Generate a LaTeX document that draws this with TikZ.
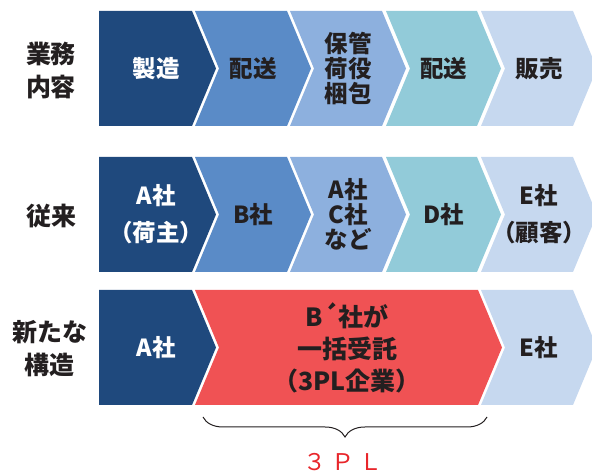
\documentclass[tikz,border=0pt]{standalone}
\usepackage{fontspec}
\setmainfont{Noto Sans CJK JP}
\usetikzlibrary{decorations.pathreplacing}
\definecolor{cnavy}{HTML}{1F497D}
\definecolor{cmid}{HTML}{5A8BC7}
\definecolor{clight}{HTML}{8DB0DE}
\definecolor{cteal}{HTML}{92CBD9}
\definecolor{cpale}{HTML}{C6D8EF}
\definecolor{cred}{HTML}{F05254}
\definecolor{ctext}{HTML}{231F20}
\definecolor{cthreepl}{HTML}{E8262B}
\newcommand\chevshape[6]{\fill[#6] (#1,#3) -- (#2,#3) -- ({#2+24},{(#3+#4)/2}) -- (#2,#4) -- (#1,#4) -- ({#1+#5},{(#3+#4)/2}) -- cycle;}
\tikzset{
  rowlabel/.style={align=center, text=ctext, font=\fontsize{25}{33}\selectfont\bfseries},
  boxtext/.style={align=center, text=ctext, font=\fontsize{23.5}{25}\selectfont\bfseries},
  boxwhite/.style={boxtext, text=white},
  widetext/.style={boxtext, font=\fontsize{23.5}{37}\selectfont\bfseries},
  redtext/.style={boxtext, font=\fontsize{25}{32}\selectfont\bfseries},
  bracestyle/.style={draw=ctext, line width=1pt, decorate, decoration={brace, mirror, amplitude=20pt}}
}
\begin{document}
\begin{tikzpicture}[x=1pt,y=1pt]
\useasboundingbox (0,0) rectangle (592,473);
\clip (0,0) rectangle (592,473);
% row 1
\chevshape{99}{192}{462}{347}{0}{cnavy}
\chevshape{195}{287}{462}{347}{24}{cmid}
\chevshape{290}{382}{462}{347}{24}{clight}
\chevshape{386}{477}{462}{347}{24}{cteal}
\chevshape{481}{573}{462}{347}{24}{cpale}
% row 2
\chevshape{99}{192}{316}{201}{0}{cnavy}
\chevshape{195}{287}{316}{201}{24}{cmid}
\chevshape{290}{382}{316}{201}{24}{clight}
\chevshape{386}{477}{316}{201}{24}{cteal}
\chevshape{481}{573}{316}{201}{24}{cpale}
% row 3
\chevshape{99}{192}{183}{68}{0}{cnavy}
\chevshape{195}{478}{183}{68}{24}{cred}
\chevshape{481}{573}{183}{68}{24}{cpale}
% labels
\node[rowlabel] (l1) at (51,402) {業務\\内容};
\node[rowlabel] (l2) at (52,257) {従来};
\node[rowlabel] (l3) at (50,124) {新たな\\構造};
% row 1 texts
\node[boxwhite] (t11) at (156,404.5) {製造};
\node[boxtext] (t12) at (253,404.5) {配送};
\node[boxtext] (t13) at (348,404.5) {保管\\荷役\\梱包};
\node[boxtext] (t14) at (443.5,404.5) {配送};
\node[boxtext] (t15) at (539,404.5) {販売};
% row 2 texts
\node[widetext, text=white] (t21) at (156,258.5) {A社\\（荷主）};
\node[boxtext] (t22) at (253,258.5) {B社};
\node[boxtext] (t23) at (348,258.5) {A社\\C社\\など};
\node[boxtext] (t24) at (443.5,258.5) {D社};
\node[widetext] (t25) at (539,258.5) {E社\\（顧客）};
% row 3 texts
\node[boxwhite] (t31) at (156,125.5) {A社};
\node[redtext] (t32) at (347,125.5) {B´社が\\一括受託\\（3PL企業）};
\node[boxtext] (t33) at (539,125.5) {E社};
% brace
\coordinate (bl) at (203,56);
\coordinate (br) at (487,56);
\draw[bracestyle] (bl) -- (br);
\node[text=cthreepl, font=\fontsize{23}{25}\selectfont] (tpl) at (343,11) {３\hspace{5pt}Ｐ\hspace{5pt}Ｌ};
\end{tikzpicture}
\end{document}
